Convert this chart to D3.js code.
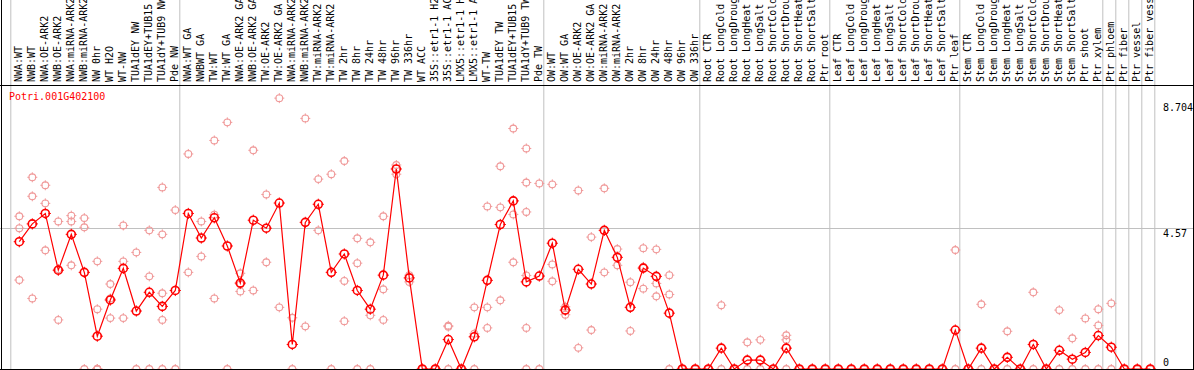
<!DOCTYPE html>
<html>
<head>
<meta charset="utf-8">
<script src="https://cdn.jsdelivr.net/npm/d3@7.9.0/dist/d3.min.js"></script>
<style>
  body { margin: 0; background: #fff; }
  svg { display: block; font-family: 'DejaVu Sans Mono', monospace; }
</style>
</head>
<body>
<svg id="chart" width="1194" height="370"></svg>
<script>
const geneName = 'Potri.001G402100';

const samples = [
  'NWA:WT', 'NWB:WT', 'NWA:OE-ARK2', 'NWB:OE-ARK2', 'NWA:miRNA-ARK2', 'NWB:miRNA-ARK2',
  'NW 0hr', 'WT H2O', 'WT-NW', 'TUA1dEY NW', 'TUA1dEY+TUB15', 'TUA1dY+TUB9 NW', 'Pde NW',
  'NWA:WT GA', 'NWBWT GA', 'TW:WT', 'TW:WT GA', 'NWA:OE-ARK2 GA', 'NWB:OE-ARK2 GA',
  'TW:OE-ARK2', 'TW:OE-ARK2 GA', 'NWA:miRNA-ARK2', 'NWB:miRNA-ARK2', 'TW:miRNA-ARK2',
  'TW:miRNA-ARK2', 'TW 2hr', 'TW 8hr', 'TW 24hr', 'TW 48hr', 'TW 96hr', 'TW 336hr',
  'WT ACC', '35S::etr1-1 H2O', '35S::etr1-1 ACC', 'LMX5::etr1-1 H2O', 'LMX5::etr1-1 ACC',
  'WT-TW', 'TUA1dEY TW', 'TUA1dEY+TUB15', 'TUA1dY+TUB9 TW', 'Pde TW',
  'OW:WT', 'OW:WT GA', 'OW:OE-ARK2', 'OW:OE-ARK2 GA', 'OW:miRNA-ARK2', 'OW:miRNA-ARK2',
  'OW 2hr', 'OW 8hr', 'OW 24hr', 'OW 48hr', 'OW 96hr', 'OW 336hr',
  'Root CTR', 'Root LongCold', 'Root LongDrought', 'Root LongHeat', 'Root LongSalt',
  'Root ShortCold', 'Root ShortDrought', 'Root ShortHeat', 'Root ShortSalt', 'Ptr root',
  'Leaf CTR', 'Leaf LongCold', 'Leaf LongDrought', 'Leaf LongHeat', 'Leaf LongSalt',
  'Leaf ShortCold', 'Leaf ShortDrought', 'Leaf ShortHeat', 'Leaf ShortSalt', 'Ptr leaf',
  'Stem CTR', 'Stem LongCold', 'Stem LongDrought', 'Stem LongHeat', 'Stem LongSalt',
  'Stem ShortCold', 'Stem ShortDrought', 'Stem ShortHeat', 'Stem ShortSalt', 'Ptr shoot',
  'Ptr xylem', 'Ptr phloem', 'Ptr fiber', 'Ptr vessel', 'Ptr fiber vessel'
];

// index of the first sample of each group (last entry = end)
const groupStarts = [0, 13, 41, 53, 63, 73, 84, 85, 86, 87, 88];

const means = [
  4.15, 4.73, 5.07, 3.22, 4.39, 3.15, 1.07, 2.25, 3.28, 1.89,
  2.50, 2.04, 2.56, 5.07, 4.27, 4.93, 4.01, 2.80, 4.85, 4.59,
  5.41, 0.80, 4.78, 5.37, 3.15, 3.75, 2.56, 1.95, 3.06, 6.52,
  2.97, 0, 0, 0.96, 0, 1.05, 2.89, 4.71, 5.48, 2.84,
  3.03, 4.10, 1.92, 3.25, 2.77, 4.52, 3.64, 2.01, 3.29, 3.02,
  1.82, 0, 0, 0, 0.68, 0, 0.29, 0.29, 0, 0.68,
  0, 0, 0, 0, 0, 0, 0, 0, 0, 0,
  0, 0, 1.27, 0, 0.68, 0, 0.38, 0, 0.80, 0,
  0.61, 0.32, 0.54, 1.09, 0.71, 0, 0, 0
];

const reps = [
  [4.98, 4.59, 2.90], [6.25, 5.63, 2.30], [5.99, 5.40, 3.87], [4.81, 1.60, 3.25],
  [5.00, 4.81, 3.38], [4.92, 4.62, 0], [3.51, 1.95, 0, 0, 0], [2.77, 2.30, 1.66],
  [4.68, 3.51, 1.66], [3.80, 0], [4.52, 3.02, 0], [5.92, 4.39, 2.47, 1.60, 0],
  [5.18, 0], [7.01, 3.15], [4.81, 3.67], [7.45, 5.03, 2.30],
  [8.04, 0], [3.12, 2.53, 2.76], [7.13, 2.56], [5.69, 3.48],
  [8.83, 2.01], [1.67, 0], [8.17, 1.39], [6.19, 4.52],
  [6.35, 0], [6.78, 2.87, 1.56], [4.26, 3.45, 0], [4.13, 1.75, 0],
  [4.98, 2.60, 1.60], [6.65, 6.35], [3.06, 2.84], [0, 0],
  [0, 0], [1.41, 1.38, 0], [0, 0], [2.01, 1.15, 0],
  [5.30, 2.01, 1.34], [6.61, 5.27, 2.24], [7.84, 5.04, 3.48], [7.19, 6.08, 5.12, 3.05, 1.34, 0],
  [6.05, 0], [6.02, 3.41, 2.86], [2.03, 1.77], [5.82, 0.69],
  [4.30, 1.27], [5.89, 3.15], [3.91, 3.38], [2.83, 1.24],
  [3.94, 3.33, 2.62], [3.90, 2.79, 2.37], [3.06, 2.43, 0], [0, 0],
  [0, 0], [0, 0], [2.08, 0], [0, 0],
  [0.87, 0], [0.95, 0], [0, 0], [1.10, 0.95, 0],
  [0, 0], [0, 0], [0, 0], [0, 0], [0, 0], [0, 0],
  [0, 0], [0, 0], [0, 0], [0, 0], [0, 0], [0, 0],
  [3.88, 0], [0, 0], [2.11, 0], [0, 0],
  [1.23, 0], [0, 0], [2.50, 0], [0, 0],
  [1.92, 0], [1.00, 0], [1.65, 0], [1.95, 1.42, 0],
  [2.14, 0], [0, 0], [0, 0], [0, 0]
];

const yTicks = [8.704, 4.57, 0];
const gridValues = [4.57];

const W = 1194, H = 370;
const headerY = 85.5, bottomY = 369.5;
const svg = d3.select('#chart');

const xBand = d3.scaleBand()
  .domain(d3.range(samples.length))
  .range([10.8, 10.8 + samples.length * 13])
  .paddingInner(0);
const px = i => xBand(i) + 8.5;

const y = d3.scaleLinear().domain([0, 8.704]).range([369, 102]);

// group separators
svg.append('g')
  .selectAll('line')
  .data(groupStarts)
  .join('line')
  .attr('x1', k => k < samples.length ? xBand(k) : xBand(k - 1) + 13)
  .attr('x2', k => k < samples.length ? xBand(k) : xBand(k - 1) + 13)
  .attr('y1', 0).attr('y2', H)
  .attr('stroke', '#c0c0c0').attr('stroke-width', 1);

svg.append('g')
  .selectAll('line')
  .data(gridValues)
  .join('line')
  .attr('x1', 0).attr('x2', W)
  .attr('y1', d => Math.round(y(d)) - 0.5).attr('y2', d => Math.round(y(d)) - 0.5)
  .attr('stroke', '#c0c0c0').attr('stroke-width', 1);

// sample labels
svg.append('g')
  .selectAll('text')
  .data(samples)
  .join('text')
  .attr('transform', (d, i) => `translate(${px(i) + 2.5},82) rotate(-90)`)
  .attr('font-size', 10)
  .attr('fill', '#000')
  .text(d => d);

// tick marks around a circle, like the reference rendering
function crossTicks(cx, cy, r) {
  const a = r - 0.8, b = r + 1.6;
  return `M${cx},${cy - a}V${cy - b}M${cx},${cy + a}V${cy + b}` +
         `M${cx - a},${cy}H${cx - b}M${cx + a},${cy}H${cx + b}`;
}

const repPoints = [];
reps.forEach((arr, i) => arr.forEach(v => repPoints.push({ i, v })));

const repColor = '#f09a9a';
const repG = svg.append('g');
repG.selectAll('circle')
  .data(repPoints)
  .join('circle')
  .attr('cx', d => px(d.i))
  .attr('cy', d => y(d.v))
  .attr('r', 3.4)
  .attr('fill', 'none')
  .attr('stroke', repColor)
  .attr('stroke-width', 1.1);
repG.selectAll('path')
  .data(repPoints)
  .join('path')
  .attr('d', d => crossTicks(px(d.i), y(d.v), 3.4))
  .attr('stroke', repColor)
  .attr('stroke-width', 1);

// mean line
const line = d3.line().x((d, i) => px(i)).y(d => y(d));
svg.append('path')
  .datum(means)
  .attr('d', line)
  .attr('fill', 'none')
  .attr('stroke', '#ff0000')
  .attr('stroke-width', 1.2);

const meanG = svg.append('g');
meanG.selectAll('circle')
  .data(means)
  .join('circle')
  .attr('cx', (d, i) => px(i))
  .attr('cy', d => y(d))
  .attr('r', 4)
  .attr('fill', 'none')
  .attr('stroke', '#ff0000')
  .attr('stroke-width', 1.6);
meanG.selectAll('path')
  .data(means)
  .join('path')
  .attr('d', (d, i) => crossTicks(px(i), y(d), 4))
  .attr('stroke', '#ff0000')
  .attr('stroke-width', 1);

// title
svg.append('text')
  .attr('x', 9).attr('y', 100)
  .attr('font-size', 10)
  .attr('fill', '#ff0000')
  .text(geneName);

// right axis labels
svg.append('g')
  .selectAll('text')
  .data(yTicks)
  .join('text')
  .attr('x', 1163)
  .attr('y', d => Math.min(y(d) + 8.5, 366))
  .attr('font-size', 10)
  .attr('fill', '#000')
  .text(d => d);

// frame
const frame = svg.append('g').attr('stroke', '#000').attr('stroke-width', 1);
frame.append('line').attr('x1', 0).attr('x2', W).attr('y1', headerY).attr('y2', headerY);
frame.append('line').attr('x1', 0).attr('x2', W).attr('y1', bottomY).attr('y2', bottomY);
frame.append('line').attr('x1', 1.5).attr('x2', 1.5).attr('y1', 0).attr('y2', H);
frame.append('line').attr('x1', W - 0.5).attr('x2', W - 0.5).attr('y1', 0).attr('y2', H);
</script>
</body>
</html>
